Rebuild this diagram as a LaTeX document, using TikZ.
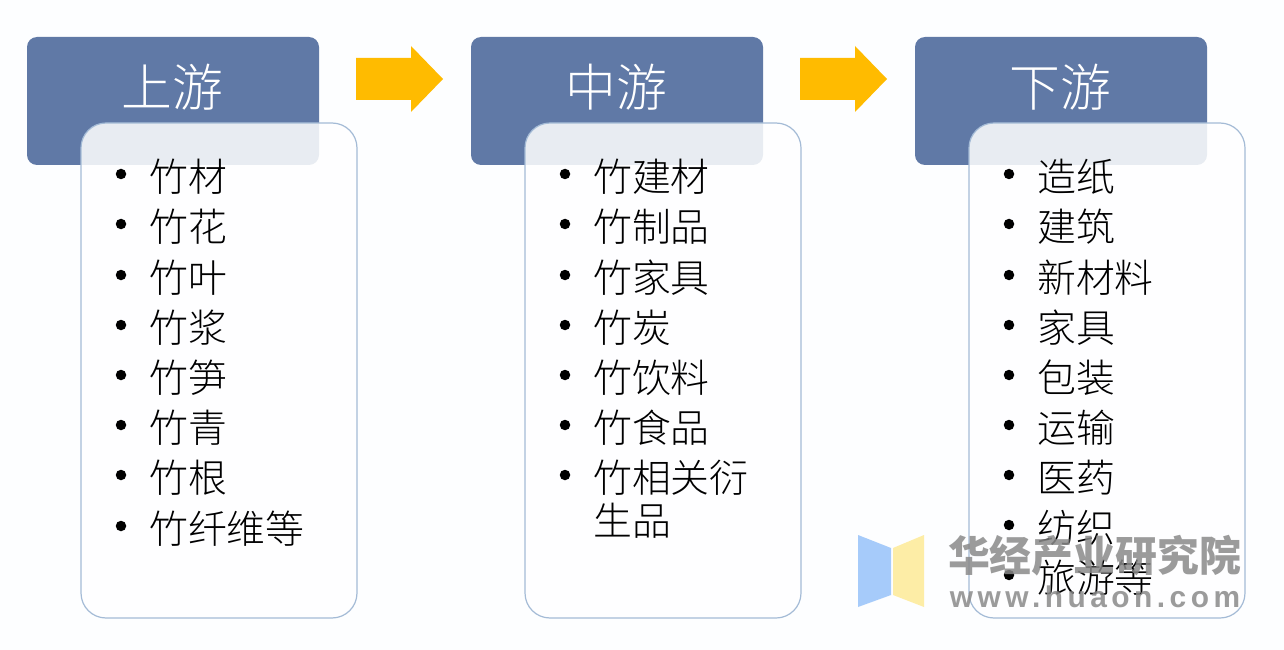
\documentclass[tikz,border=0pt]{standalone}
\usepackage{fontspec}
\setmainfont{Liberation Sans}
\newfontfamily\cjk{Noto Sans CJK SC Light}
\newfontfamily\cjkbold{Noto Sans CJK SC}
\newfontfamily\wmlat{Liberation Sans}[LetterSpace=15]
\definecolor{headblue}{HTML}{6079A6}
\definecolor{edgeblue}{HTML}{A4BBD6}
\definecolor{arrowgold}{HTML}{FFBB00}
\definecolor{logoblue}{HTML}{A6CBFA}
\definecolor{logoyellow}{HTML}{FDEDA6}
\definecolor{wmgray}{HTML}{8A8A8A}
\definecolor{pagebg}{HTML}{FDFEFF}
\tikzset{
  x=1bp,y=-1bp,
  headbox/.style={fill=headblue,rounded corners=10bp},
  headtext/.style={text=white,font=\cjk\fontsize{51}{51}\selectfont,inner sep=0pt,anchor=center},
  listbox/.style={fill=white,fill opacity=.86,draw=edgeblue,line width=1.2bp,rounded corners=25bp},
  itemtext/.style={text=black,font=\cjk\fontsize{39}{39}\selectfont,inner sep=0pt,anchor=west},
  dotmark/.style={circle,fill=black,inner sep=0pt,minimum size=10.5bp},
  flowarrow/.style={fill=arrowgold},
  wmtext/.style={text=wmgray,opacity=.85,inner sep=0pt,anchor=center},
}
\newcommand{\blockfig}[3]{% name, head x, head label
  \path[headbox] (#2,37) rectangle (#2+292,165);
  \node[headtext] (#1head) at (#2+145,87) {#3};
  \path[listbox] (#2+54,123) rectangle (#2+330,618);
}
\newcommand{\itemrow}[5]{% name, text x, y, bullet flag, text
  \ifnum#4=1 \node[dotmark] (#1dot) at (#2-28,#3-3) {};\fi
  \node[itemtext] (#1) at (#2,#3) {#5};
}
\begin{document}
\begin{tikzpicture}
\useasboundingbox (0,0) rectangle (1284,650);
\fill[pagebg] (0,0) rectangle (1284,650);
\blockfig{a}{27}{上游}
\blockfig{b}{471}{中游}
\blockfig{c}{915}{下游}
\path[flowarrow] (356,58) -- (411,58) -- (411,46) -- (443,79) -- (411,112) -- (411,100) -- (356,100) -- cycle;
\path[flowarrow] (800,58) -- (855,58) -- (855,46) -- (887,79) -- (855,112) -- (855,100) -- (800,100) -- cycle;
% left
\itemrow{a1}{149}{177}{1}{竹材}
\itemrow{a2}{149}{227}{1}{竹花}
\itemrow{a3}{149}{278}{1}{竹叶}
\itemrow{a4}{149}{328}{1}{竹浆}
\itemrow{a5}{149}{378}{1}{竹笋}
\itemrow{a6}{149}{428}{1}{竹青}
\itemrow{a7}{149}{478}{1}{竹根}
\itemrow{a8}{149}{529}{1}{竹纤维等}
% middle
\itemrow{b1}{593}{177}{1}{竹建材}
\itemrow{b2}{593}{227}{1}{竹制品}
\itemrow{b3}{593}{278}{1}{竹家具}
\itemrow{b4}{593}{328}{1}{竹炭}
\itemrow{b5}{593}{378}{1}{竹饮料}
\itemrow{b6}{593}{428}{1}{竹食品}
\itemrow{b7}{593}{478}{1}{竹相关衍}
\itemrow{b8}{593}{521}{0}{生品}
% right
\itemrow{c1}{1037}{177}{1}{造纸}
\itemrow{c2}{1037}{227}{1}{建筑}
\itemrow{c3}{1037}{278}{1}{新材料}
\itemrow{c4}{1037}{328}{1}{家具}
\itemrow{c5}{1037}{378}{1}{包装}
\itemrow{c6}{1037}{428}{1}{运输}
\itemrow{c7}{1037}{478}{1}{医药}
\itemrow{c8}{1037}{528}{1}{纺织}
\itemrow{c9}{1037}{578}{1}{旅游等}
% watermark
\fill[logoblue] (858,535) -- (891,548) -- (891,595) -- (858,607) -- cycle;
\fill[logoyellow] (893,548) -- (924,535) -- (924,607) -- (893,595) -- cycle;
\node[wmtext,font=\cjkbold\bfseries\fontsize{42}{42}\selectfont] (wmcn) at (1094.5,556) {华经产业研究院};
\node[wmtext,font=\wmlat\bfseries\fontsize{30}{30}\selectfont] (wmen) at (1095,597) {www.huaon.com};
\end{tikzpicture}
\end{document}
